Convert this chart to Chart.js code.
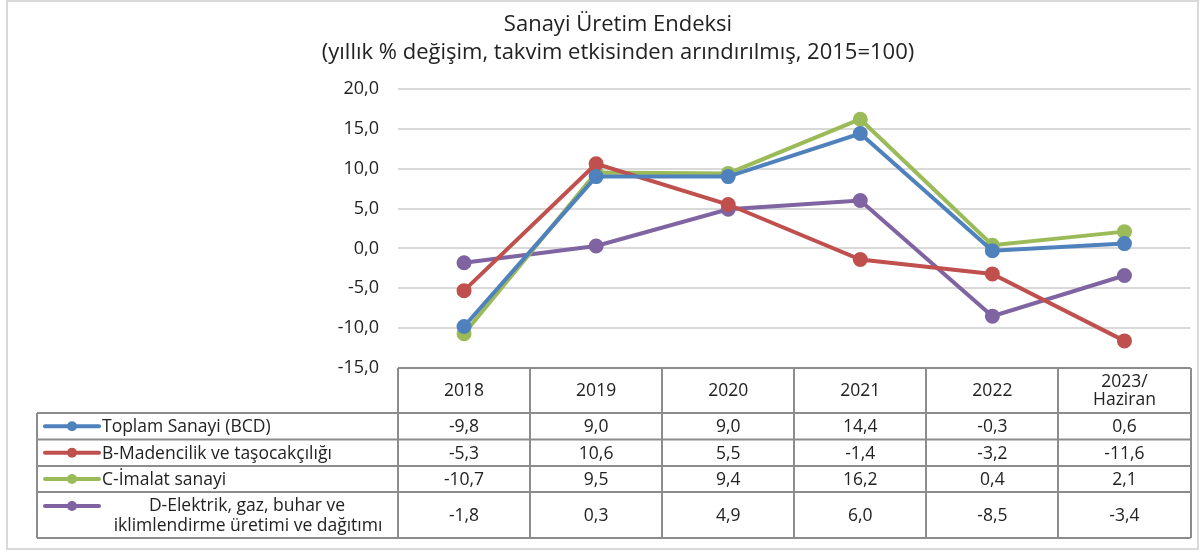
<!DOCTYPE html>
<html>
<head>
<meta charset="utf-8">
<script src="https://cdn.jsdelivr.net/npm/chart.js@4"></script>
<style>
  body { margin: 0; background: #fff; }
  #wrap { width: 1200px; height: 553px; }
</style>
</head>
<body>
<div id="wrap"><canvas id="chart" width="1200" height="553"></canvas></div>
<script>
// categories (last one is two lines)
const years = ["2018", "2019", "2020", "2021", "2022", ["2023/", "Haziran"]];

// series
const toplam = [-9.8, 9.0, 9.0, 14.4, -0.3, 0.6];
const madencilik = [-5.3, 10.6, 5.5, -1.4, -3.2, -11.6];
const imalat = [-10.7, 9.5, 9.4, 16.2, 0.4, 2.1];
const elektrik = [-1.8, 0.3, 4.9, 6.0, -8.5, -3.4];

const seriesNames = [
  "Toplam Sanayi (BCD)",
  "B-Madencilik ve taşocakçılığı",
  "C-İmalat sanayi",
  ["D-Elektrik, gaz, buhar ve", "iklimlendirme üretimi ve dağıtımı"]
];
const colors = ["#4f81bd", "#c0504d", "#9bbb59", "#8064a2"];

const yMin = -15, yMax = 20, yStep = 5;

const FONT = "'Open Sans', sans-serif";
const fmt = v => v.toFixed(1).replace(".", ",");

// frame around the whole picture
const framePlugin = {
  id: "frame",
  beforeDraw(chart) {
    const c = chart.ctx;
    c.save();
    c.strokeStyle = "#d9d9d9";
    c.lineWidth = 2;
    c.strokeRect(7, 1, 1191, 548);
    c.restore();
  }
};

// data table under the plot
const tablePlugin = {
  id: "dataTable",
  afterDraw(chart) {
    const c = chart.ctx;
    const x = chart.scales.x;
    const area = chart.chartArea;
    const step = x.getPixelForValue(1) - x.getPixelForValue(0);
    const left = 37;
    const colLeft = area.left;
    const right = area.right;
    const top = area.bottom;
    const rows = [top, 413, 439.5, 466, 492, 538];

    c.save();
    c.fillStyle = "#222";
    c.font = "17.5px " + FONT;
    c.textAlign = "center";
    c.textBaseline = "middle";

    // header
    years.forEach((y, i) => {
      const cx = x.getPixelForValue(i);
      const mid = (rows[0] + rows[1]) / 2 + 1;
      if (Array.isArray(y)) {
        c.fillText(y[0], cx, mid - 9);
        c.fillText(y[1], cx, mid + 9);
      } else {
        c.fillText(y, cx, mid);
      }
    });

    // body
    const all = [toplam, madencilik, imalat, elektrik];
    all.forEach((arr, r) => {
      const mid = (rows[r + 1] + rows[r + 2]) / 2 + 1;
      arr.forEach((v, i) => {
        c.fillText(fmt(v), x.getPixelForValue(i), mid);
      });

      // legend key
      const ky = r === 3 ? mid - 10 : mid - 1;
      c.strokeStyle = colors[r];
      c.lineWidth = 4;
      c.lineCap = "round";
      c.beginPath();
      c.moveTo(45, ky);
      c.lineTo(99, ky);
      c.stroke();
      c.fillStyle = colors[r];
      c.beginPath();
      c.arc(72, ky, 5, 0, Math.PI * 2);
      c.fill();

      c.fillStyle = "#222";
      const name = seriesNames[r];
      if (Array.isArray(name)) {
        c.textAlign = "center";
        c.fillText(name[0], 247, mid - 10);
        c.fillText(name[1], 248, mid + 10);
      } else {
        c.textAlign = "left";
        c.fillText(name, 102, mid);
      }
      c.textAlign = "center";
    });

    // grid lines of the table
    c.strokeStyle = "#8c8c8c";
    c.lineWidth = 2;
    c.lineCap = "butt";
    c.beginPath();
    c.moveTo(colLeft, rows[0]); c.lineTo(right, rows[0]);
    for (let r = 1; r < rows.length; r++) {
      c.moveTo(left, rows[r]); c.lineTo(right, rows[r]);
    }
    c.moveTo(left, rows[1]); c.lineTo(left, rows[5]);
    for (let i = 0; i <= years.length; i++) {
      const xx = Math.round(colLeft + i * step);
      c.moveTo(xx, rows[0]); c.lineTo(xx, rows[5]);
    }
    c.stroke();
    c.restore();
  }
};

const datasets = [toplam, madencilik, imalat, elektrik].map((arr, i) => ({
  label: Array.isArray(seriesNames[i]) ? seriesNames[i].join(" ") : seriesNames[i],
  data: arr,
  borderColor: colors[i],
  backgroundColor: colors[i],
  borderWidth: 4,
  pointRadius: 5.5,
  pointHoverRadius: 5.5,
  tension: 0
}));

new Chart(document.getElementById("chart"), {
  type: "line",
  data: { labels: years, datasets: datasets },
  options: {
    responsive: false,
    animation: false,
    events: [],
    layout: { padding: { left: 38, right: 2, top: 0, bottom: 185 } },
    plugins: {
      legend: { display: false },
      tooltip: { enabled: false },
      title: {
        display: true,
        text: ["Sanayi Üretim Endeksi", "(yıllık % değişim, takvim etkisinden arındırılmış, 2015=100)"],
        color: "#222",
        font: { family: FONT, size: 22, weight: "normal", lineHeight: 1.27 },
        padding: { top: 11, bottom: 22 }
      }
    },
    scales: {
      x: {
        display: false,
        offset: true
      },
      y: {
        min: yMin,
        max: yMax,
        afterFit(scale) { scale.width = 398 - 38; },
        border: { display: false },
        grid: { color: "#d9d9d9", lineWidth: 2, drawTicks: false },
        ticks: {
          stepSize: yStep,
          padding: 19,
          color: "#222",
          font: { family: FONT, size: 18 },
          callback: v => fmt(v)
        }
      }
    }
  },
  plugins: [framePlugin, tablePlugin]
});
</script>
</body>
</html>
